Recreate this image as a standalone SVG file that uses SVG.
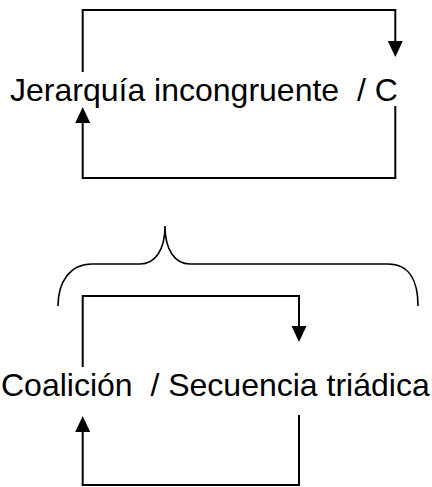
<svg xmlns="http://www.w3.org/2000/svg" width="432" height="487" viewBox="0 0 432 487">
  <style>
    .lbl { font-family: "Liberation Sans", Arial, sans-serif; font-size: 32px; fill: #000; white-space: pre; }
    .conn { fill: none; stroke: #000; stroke-width: 2; }
    .brace { fill: none; stroke: #000; stroke-width: 1.6; }
  </style>
  <defs>
    <marker id="arr" markerUnits="userSpaceOnUse" markerWidth="16" markerHeight="16" refX="11" refY="8" orient="auto" viewBox="0 0 16 16">
      <path d="M0,0.5 L16,8 L0,15.5 z" fill="#000"/>
    </marker>
  </defs>
  <rect width="432" height="487" fill="#fff"/>
  <g id="node-top">
    <text class="lbl" x="10" y="100.5" xml:space="preserve">Jerarquía incongruente  / C</text>
  </g>
  <g id="node-bottom">
    <text class="lbl" x="1" y="396" xml:space="preserve">Coalición  / Secuencia triádica</text>
  </g>
  <g id="brace">
    <path class="brace" d="M58,306 C58,282 70,264 92,264 H140 C155,264 165,250 165,226 C165,250 175,264 190,264 H388 C410,264 418,282 418,306"/>
  </g>
  <g id="connectors">
    <path class="conn" d="M82.7,72 V10 H395.3 V52" marker-end="url(#arr)"/>
    <path class="conn" d="M395.3,106 V178 H82.7 V112" marker-end="url(#arr)"/>
    <path class="conn" d="M82.7,367 V296 H299 V337" marker-end="url(#arr)"/>
    <path class="conn" d="M299,415 V485 H82.7 V421" marker-end="url(#arr)"/>
  </g>
</svg>
